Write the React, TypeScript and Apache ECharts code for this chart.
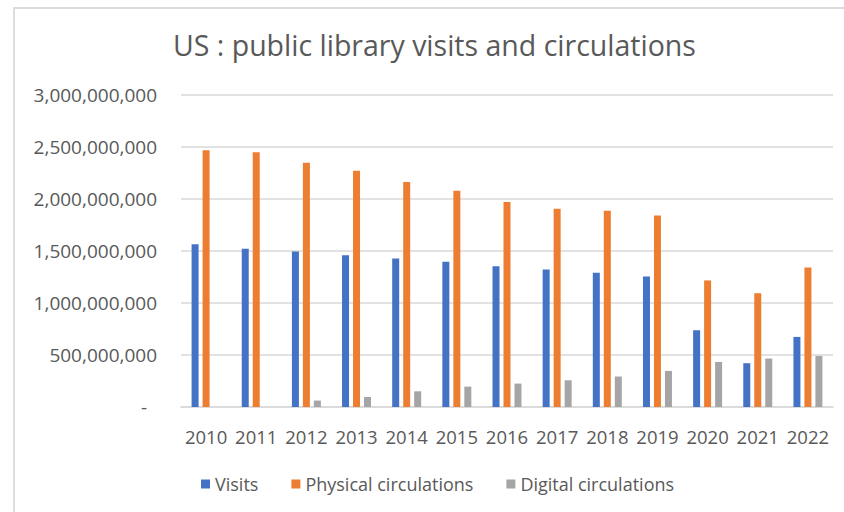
import React, { useEffect, useRef } from "react";
import * as echarts from "echarts";

const years = ["2010", "2011", "2012", "2013", "2014", "2015", "2016", "2017", "2018", "2019", "2020", "2021", "2022"];
const visits = [1566e6, 1521e6, 1496e6, 1460e6, 1428e6, 1396e6, 1354e6, 1322e6, 1290e6, 1255e6, 738e6, 421e6, 674e6];
const physical = [2468e6, 2449e6, 2348e6, 2271e6, 2163e6, 2079e6, 1970e6, 1906e6, 1886e6, 1842e6, 1217e6, 1094e6, 1342e6];
const digital = [0, 0, 62e6, 96e6, 151e6, 196e6, 225e6, 257e6, 293e6, 347e6, 433e6, 466e6, 491e6];
const seriesNames = ["Visits", "Physical circulations", "Digital circulations"];
const colors = ["#4472C4", "#ED7D31", "#A5A5A5"];

const FONT = "'Open Sans', 'Noto Sans', sans-serif";

export default function App() {
  const ref = useRef<HTMLDivElement>(null);
  useEffect(() => {
    if (!ref.current) return;
    const chart = echarts.init(ref.current, undefined, { renderer: "svg" });
    const fmt = (v: number) => {
      if (v === 0) return "{z|-}";
      return v.toString().replace(/\B(?=(\d{3})+(?!\d))/g, ",");
    };
    chart.setOption({
      animation: false,
      backgroundColor: "#ffffff",
      title: {
        text: "US : public library visits and circulations",
        left: 173,
        top: 30,
        padding: 0,
        textStyle: { fontFamily: FONT, fontSize: 28.5, fontWeight: "normal", color: "#595959" },
      },
      legend: {
        left: 196,
        top: 470,
        itemWidth: 9,
        itemHeight: 9,
        itemGap: 33,
        icon: "rect",
        textStyle: { fontFamily: FONT, fontSize: 18, color: "#595959" },
        data: seriesNames,
      },
      grid: { left: 181, right: 11, top: 95, bottom: 105, containLabel: false },
      xAxis: {
        type: "category",
        data: years,
        axisLine: { show: true, lineStyle: { color: "#d9d9d9", width: 1.5 } },
        axisTick: { show: false },
        axisLabel: { fontFamily: FONT, fontSize: 18.5, color: "#595959", margin: 20, interval: 0, hideOverlap: false },
      },
      yAxis: {
        type: "value",
        min: 0,
        max: 3000000000,
        interval: 500000000,
        axisLine: { show: false },
        axisTick: { show: false },
        splitLine: { lineStyle: { color: "#d9d9d9", width: 1.5 } },
        axisLabel: {
          fontFamily: FONT,
          fontSize: 19,
          color: "#595959",
          margin: 24,
          formatter: fmt,
          rich: { z: { fontFamily: FONT, fontSize: 19, color: "#595959", padding: [0, 10, 0, 0] } },
        },
      },
      graphic: [
        { type: "line", shape: { x1: 13, y1: 8, x2: 844, y2: 8 }, style: { stroke: "#dcdcdc", lineWidth: 2 }, silent: true },
        { type: "line", shape: { x1: 14, y1: 8, x2: 14, y2: 512 }, style: { stroke: "#dcdcdc", lineWidth: 2 }, silent: true },
      ],
      series: [visits, physical, digital].map((d, i) => ({
        name: seriesNames[i],
        type: "bar",
        data: d,
        barWidth: 7,
        barGap: "57%",
        itemStyle: { color: colors[i] },
      })),
    });
    return () => chart.dispose();
  }, []);
  return <div ref={ref} style={{ position: "fixed", left: 0, top: 0, width: 844, height: 512 }} />;
}
